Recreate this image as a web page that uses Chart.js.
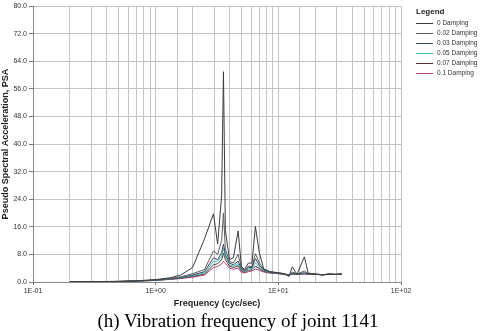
<!DOCTYPE html>
<html>
<head>
<meta charset="utf-8">
<script src="https://cdn.jsdelivr.net/npm/chart.js@4.4.0/dist/chart.umd.min.js"></script>
<style>
  body { margin: 0; background: #fff; }
  #wrap { position: relative; width: 480px; height: 331px; }
  #legend { position: absolute; left: 416px; top: 6px; font-family: Arial, "Liberation Sans", sans-serif; color: #333; }
  #legend .ttl { font-size: 8px; font-weight: bold; color: #222; height: 12px; line-height: 12px; }
  #legend .row { position: relative; height: 10px; line-height: 10px; font-size: 6.5px; white-space: nowrap; padding-left: 21px; }
  #legend .sw { position: absolute; left: 0; top: 5px; width: 17px; height: 1px; }
  #caption { position: absolute; left: 0; width: 476px; top: 311px; height: 20px; line-height: 20px; text-align: center;
             font-family: "Liberation Serif", "Times New Roman", serif; font-size: 19px; color: #000; white-space: nowrap; }
</style>
</head>
<body>
<div id="wrap">
  <canvas id="psa" width="480" height="331"></canvas>
  <div id="legend"><div class="ttl">Legend</div></div>
  <div id="caption">(h) Vibration frequency of joint 1141</div>
</div>
<script>
// frequency (cyc/sec) shared by all damping curves
const freq = [0.2, 0.3, 0.4, 0.5, 0.7, 1.0, 1.3, 1.6, 2.0, 2.5, 2.96, 3.2, 3.45, 3.57, 3.7, 4.0, 4.3, 4.7, 5.0, 5.3, 5.7, 6.1, 6.5, 7.0, 7.6, 8.5, 10.5, 11.5, 12.2, 13.0, 14.2, 16.3, 17.5, 20, 23, 26, 29, 33];

const damp0  = [0.1, 0.12, 0.15, 0.2, 0.35, 0.7, 1.2, 2.0, 4.2, 12.5, 19.8, 11, 25, 61, 15, 6.5, 7, 14.8, 4.5, 3.6, 5.5, 5.5, 16.1, 8.5, 3.8, 3.0, 2.6, 2.3, 1.6, 4.4, 2.2, 7.3, 2.6, 2.3, 2.0, 2.3, 2.2, 2.3];
const damp02 = [0.08, 0.1, 0.13, 0.17, 0.3, 0.6, 1.0, 1.5, 2.4, 3.6, 9, 8, 12, 20, 9.5, 6, 5.5, 8, 4.2, 3.3, 4.6, 4.5, 8.2, 5.5, 3.7, 3.0, 2.5, 2.2, 1.9, 2.9, 2.3, 3.2, 2.5, 2.3, 2.1, 2.3, 2.2, 2.3];
const damp03 = [0.08, 0.1, 0.12, 0.16, 0.28, 0.55, 0.9, 1.3, 2.0, 3.0, 7.0, 6.5, 8.5, 11.0, 8.0, 5.5, 5.0, 6.0, 3.8, 3.2, 4.2, 4.2, 6.8, 4.8, 3.5, 2.9, 2.5, 2.2, 2.0, 2.6, 2.3, 2.7, 2.4, 2.3, 2.1, 2.3, 2.2, 2.3];
const damp05 = [0.08, 0.1, 0.12, 0.15, 0.27, 0.5, 0.85, 1.2, 1.8, 2.6, 6.0, 6.0, 7.5, 9.7, 7.3, 5.0, 4.6, 5.3, 3.5, 3.0, 3.8, 3.9, 5.6, 4.3, 3.3, 2.8, 2.4, 2.2, 2.0, 2.4, 2.3, 2.5, 2.4, 2.3, 2.1, 2.3, 2.2, 2.3];
const damp07 = [0.08, 0.09, 0.11, 0.14, 0.26, 0.48, 0.8, 1.1, 1.6, 2.3, 5.0, 5.3, 6.5, 8.3, 6.5, 4.6, 4.2, 4.7, 3.2, 2.8, 3.4, 3.6, 4.6, 3.9, 3.1, 2.7, 2.4, 2.1, 2.0, 2.3, 2.2, 2.4, 2.3, 2.2, 2.1, 2.3, 2.2, 2.3];
const damp10 = [0.08, 0.09, 0.1, 0.13, 0.25, 0.45, 0.75, 1.0, 1.4, 2.0, 4.2, 4.5, 5.2, 6.0, 5.4, 4.0, 3.7, 4.0, 2.8, 2.6, 3.0, 3.2, 3.8, 3.4, 2.9, 2.6, 2.3, 2.1, 2.0, 2.2, 2.2, 2.3, 2.2, 2.2, 2.1, 2.2, 2.2, 2.2];

const seriesNames = ["0 Damping", "0.02 Damping", "0.03 Damping", "0.05 Damping", "0.07 Damping", "0.1 Damping"];
const seriesData = [damp0, damp02, damp03, damp05, damp07, damp10];
const seriesColors = ["#3c3c3c", "#5c5c5c", "#34406a", "#3cc0b0", "#5b2f2f", "#b0407a"];

// y ticks 0..80 step 8
const yMin = 0, yMax = 80, yStep = 8;
const xMin = 0.1, xMax = 100;

const fmtExp = (v) => {
  const e = Math.round(Math.log10(v));
  if (Math.abs(v - Math.pow(10, e)) > 1e-9 * v) return "";
  const s = e < 0 ? "-" : "+";
  return "1E" + s + String(Math.abs(e)).padStart(2, "0");
};

const datasets = seriesNames.map((name, i) => ({
  label: name,
  data: freq.map((f, j) => ({ x: f, y: seriesData[i][j] })),
  borderColor: seriesColors[i],
  backgroundColor: seriesColors[i],
  borderWidth: 1,
  pointRadius: 0,
  tension: 0,
}));

// legend on the right, built from the series names/colours
const legendEl = document.getElementById("legend");
seriesNames.forEach((name, i) => {
  const row = document.createElement("div");
  row.className = "row";
  const sw = document.createElement("span");
  sw.className = "sw";
  sw.style.background = seriesColors[i];
  row.appendChild(sw);
  row.appendChild(document.createTextNode(name));
  legendEl.appendChild(row);
});

Chart.defaults.font.family = "Arial, 'Liberation Sans', sans-serif";

new Chart(document.getElementById("psa"), {
  type: "line",
  data: { datasets: datasets },
  options: {
    responsive: false,
    animation: false,
    layout: { padding: { top: 0, left: 0, right: 79, bottom: 19 } },
    scales: {
      x: {
        type: "logarithmic",
        min: xMin,
        max: xMax,
        afterFit: (scale) => { scale.height = 30; },
        grid: {
          color: "#c4c4c4",
          tickLength: 3,
          tickColor: (ctx) => (ctx.tick && fmtExp(ctx.tick.value) ? "#666" : "rgba(0,0,0,0)"),
        },
        border: { color: "#888" },
        ticks: {
          autoSkip: false,
          maxRotation: 0,
          font: { size: 7 },
          color: "#333",
          padding: 2,
          callback: (v) => fmtExp(v),
        },
        title: {
          display: true,
          text: "Frequency (cyc/sec)",
          font: { size: 9, weight: "bold" },
          color: "#222",
          padding: { top: 2, bottom: 3 },
        },
      },
      y: {
        min: yMin,
        max: yMax,
        afterFit: (scale) => { scale.width = 33; },
        grid: { color: "#c4c4c4", tickLength: 4, tickColor: "#777" },
        border: { color: "#888" },
        ticks: {
          stepSize: yStep,
          font: { size: 7 },
          color: "#333",
          padding: 2,
          callback: (v) => v.toFixed(1),
        },
        title: {
          display: true,
          text: "Pseudo Spectral Acceleration, PSA",
          font: { size: 9, weight: "bold" },
          color: "#222",
          padding: { top: 0, bottom: 0 },
        },
      },
    },
    plugins: {
      tooltip: { enabled: false },
      legend: { display: false },
    },
  },
});
</script>
</body>
</html>
